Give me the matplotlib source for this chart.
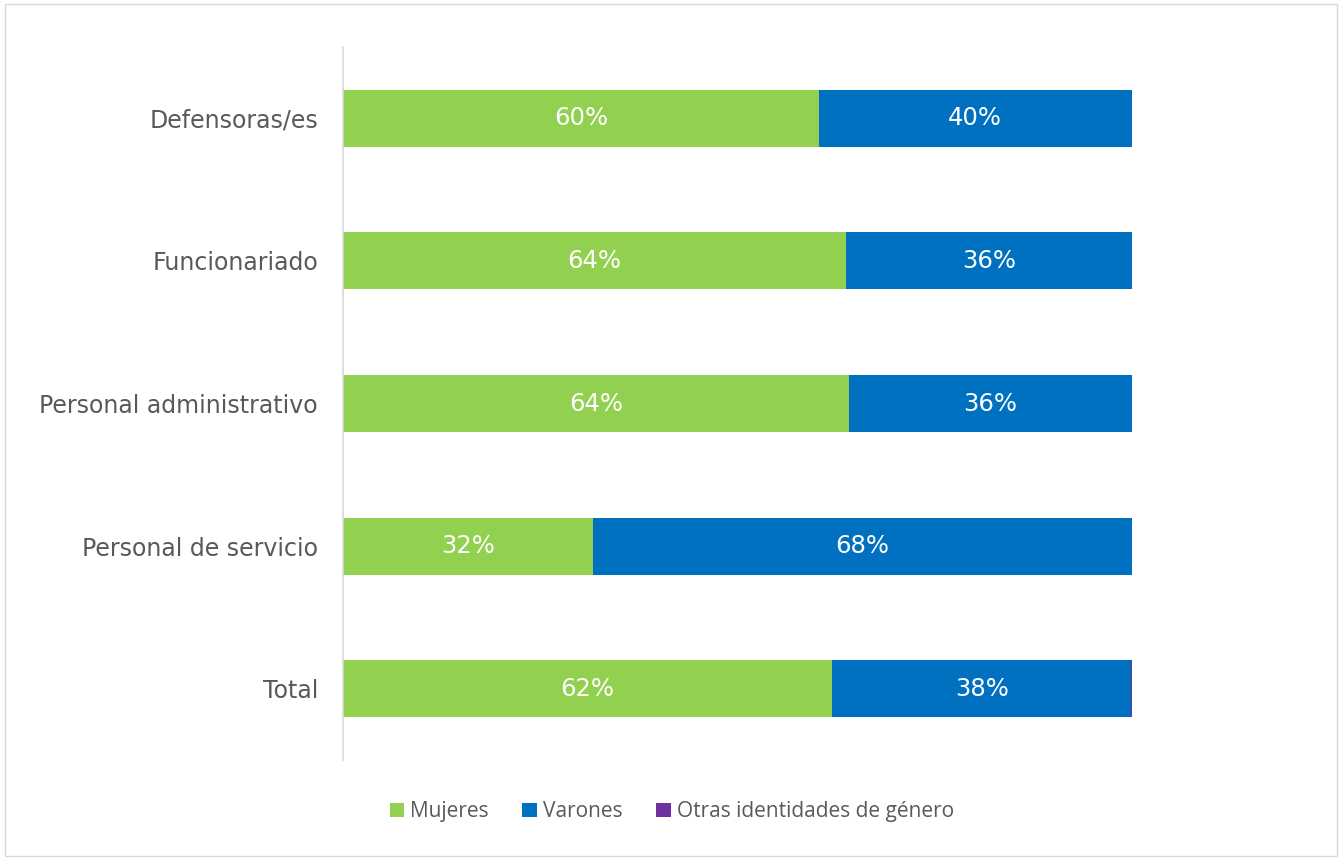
import matplotlib.pyplot as plt
from matplotlib.patches import Rectangle

categories = ['Defensoras/es', 'Funcionariado', 'Personal administrativo',
              'Personal de servicio', 'Total']
mujeres = [60.3, 63.7, 64.1, 31.7, 62.0]
varones = [39.7, 36.3, 35.9, 68.3, 37.9]
otras = [0.0, 0.0, 0.0, 0.0, 0.1]

c_muj = '#92d050'
c_var = '#0070c0'
c_otr = '#7030a0'

plt.rcParams['font.family'] = ['DejaVu Sans']

fig = plt.figure(figsize=(13.41, 8.59), dpi=100)
ax = fig.add_axes([0.2558, 0.1152, 0.5883, 0.8301])

y = list(range(len(categories)))
h = 0.4
ax.barh(y, mujeres, height=h, color=c_muj, label='Mujeres')
ax.barh(y, varones, height=h, left=mujeres, color=c_var, label='Varones')
left2 = [m + v for m, v in zip(mujeres, varones)]
ax.barh(y, otras, height=h, left=left2, color=c_otr, label='Otras identidades de género')

for i in y:
    ax.text(mujeres[i] / 2, i, f'{mujeres[i]:.0f}%', ha='center', va='center',
            color='white', fontsize=17.5)
    ax.text(mujeres[i] + varones[i] / 2, i, f'{varones[i]:.0f}%', ha='center',
            va='center', color='white', fontsize=17.5)

ax.set_xlim(0, 100)
ax.set_ylim(len(categories) - 0.5, -0.5)
ax.set_yticks(y)
ax.set_yticklabels(categories, fontsize=17, color='#595959')
ax.tick_params(axis='y', length=0, pad=18)
ax.set_xticks([])
for s in ['top', 'right', 'bottom']:
    ax.spines[s].set_visible(False)
ax.spines['left'].set_color('#d9d9d9')
ax.spines['left'].set_linewidth(1.2)

leg = fig.legend(loc='center', bbox_to_anchor=(0.501, 0.055), ncol=3, frameon=False,
                 handlelength=0.7, handleheight=0.7, handletextpad=0.3,
                 columnspacing=1.6, prop={'family': 'Open Sans', 'size': 15})
for t in leg.get_texts():
    t.set_color('#595959')

fig.patches.append(Rectangle((0.004, 0.004), 0.993, 0.991, transform=fig.transFigure,
                             fill=False, edgecolor='#d9d9d9', linewidth=1))

fig.savefig('out.png', dpi=100)
